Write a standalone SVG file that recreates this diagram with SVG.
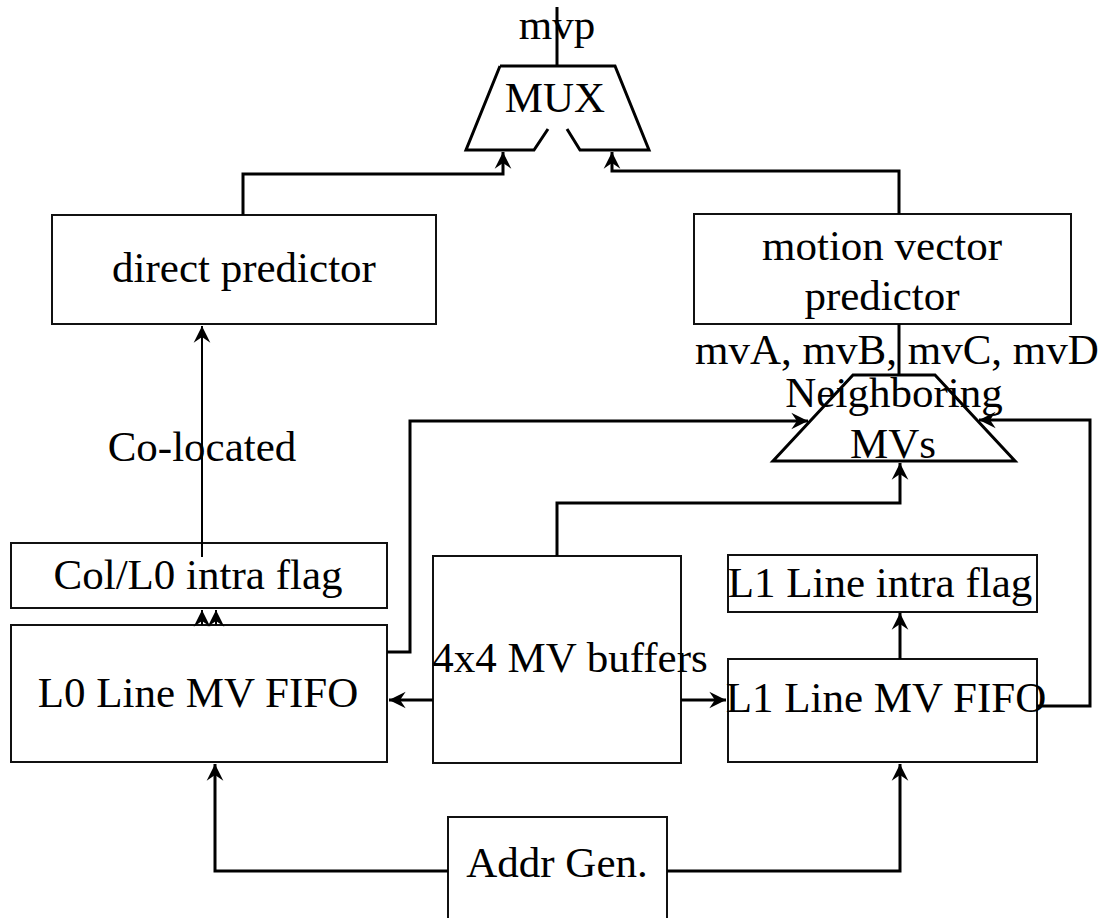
<svg xmlns="http://www.w3.org/2000/svg" width="1108" height="918" viewBox="0 0 1108 918">
  <style>
    .box { fill: #fff; stroke: #111; stroke-width: 2; }
    .trap { fill: #fff; stroke: #000; stroke-width: 3; stroke-linejoin: miter; }
    .lbl { font-family: "Liberation Serif", "Times New Roman", serif; font-size: 43px; fill: #000; text-anchor: middle; }
    .wire { fill: none; stroke: #000; stroke-width: 3; }
    .thin { fill: none; stroke: #000; stroke-width: 2; }
  </style>
  <defs>
    <marker id="head" markerUnits="userSpaceOnUse" markerWidth="20" markerHeight="20" viewBox="-16 -8 18 16" refX="0" refY="0" orient="auto">
      <path d="M0,0 L-15,-7.5 L-10,0 L-15,7.5 Z" fill="#000"/>
    </marker>
  </defs>

  <!-- multiplexer selecting the final predictor -->
  <g id="mux">
    <path class="trap" d="M500,66 L615,66 L649,150 L580,150 L567,129 M548,129 L534,150 L466,150 L500,66"/>
    <text class="lbl" x="555" y="112">MUX</text>
  </g>

  <g id="direct-predictor">
    <rect class="box" x="52" y="215" width="384" height="109"/>
    <text class="lbl" x="244" y="282">direct predictor</text>
  </g>

  <g id="mv-predictor">
    <rect class="box" x="694" y="214" width="377" height="110"/>
    <text class="lbl" x="882" y="260">motion vector</text>
    <text class="lbl" x="882" y="310">predictor</text>
  </g>

  <g id="neighboring-mvs">
    <path class="trap" d="M853,375 L935,375 L1015,461 L773,461 Z"/>
    <text class="lbl" x="894" y="407">Neighboring</text>
    <text class="lbl" x="893" y="458">MVs</text>
  </g>

  <g id="col-l0-flag">
    <rect class="box" x="11" y="543" width="376" height="65"/>
    <text class="lbl" x="198" y="589">Col/L0 intra flag</text>
  </g>

  <g id="l0-fifo">
    <rect class="box" x="11" y="625" width="376" height="137"/>
    <text class="lbl" x="198" y="707">L0 Line MV FIFO</text>
  </g>

  <g id="mv-buffers">
    <rect class="box" x="433" y="556" width="248" height="207"/>
    <text class="lbl" x="570" y="672">4x4 MV buffers</text>
  </g>

  <g id="l1-flag">
    <rect class="box" x="728" y="555" width="309" height="57"/>
    <text class="lbl" x="880" y="597">L1 Line intra flag</text>
  </g>

  <g id="l1-fifo">
    <rect class="box" x="728" y="659" width="309" height="103"/>
  </g>

  <g id="addr-gen">
    <rect class="box" x="448" y="817" width="219" height="120"/>
    <text class="lbl" x="557" y="877">Addr Gen.</text>
  </g>

  <g id="connectors">
    <path class="wire" d="M557,66 V7"/>
    <path class="wire" d="M243,215 V174 H503 V152" marker-end="url(#head)"/>
    <path class="wire" d="M899,214 V171 H612 V152" marker-end="url(#head)"/>
    <path class="wire" d="M899,324 V375"/>
    <path class="wire" d="M387,652 H410 V421 H808" marker-end="url(#head)"/>
    <path class="wire" d="M557,556 V503 H900 V463" marker-end="url(#head)"/>
    <path class="wire" d="M1037,706 H1090 V420 H979" marker-end="url(#head)"/>
    <path class="wire" d="M433,700 H389" marker-end="url(#head)"/>
    <path class="wire" d="M681,700 H726" marker-end="url(#head)"/>
    <path class="wire" d="M900,659 V613" marker-end="url(#head)"/>
    <path class="wire" d="M448,871 H215 V764" marker-end="url(#head)"/>
    <path class="wire" d="M667,871 H900 V764" marker-end="url(#head)"/>
    <path class="thin" d="M202,557 V326" marker-end="url(#head)"/>
    <path class="thin" d="M202,625 V610" marker-end="url(#head)"/>
    <path class="thin" d="M216,625 V610" marker-end="url(#head)"/>
  </g>

  <!-- labels drawn over the wires -->
  <text class="lbl" x="557" y="39">mvp</text>
  <text class="lbl" x="897" y="364">mvA, mvB, mvC, mvD</text>
  <text class="lbl" x="202" y="461">Co-located</text>
  <text class="lbl" x="886" y="712">L1 Line MV FIFO</text>
</svg>
